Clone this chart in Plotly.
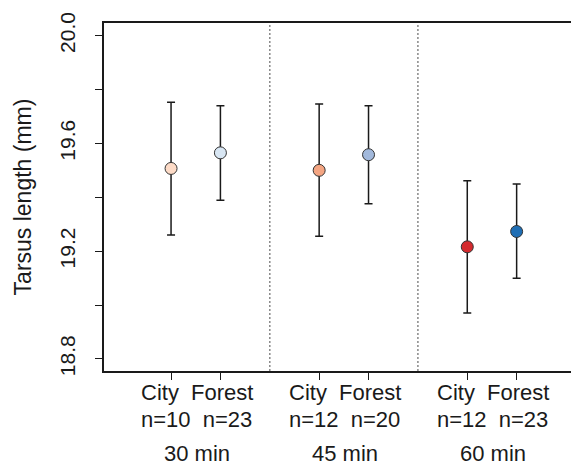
import plotly.graph_objects as go

# Data
groups = ["30 min", "45 min", "60 min"]
habitats = ["City", "Forest"]
sample_sizes = [10, 23, 12, 20, 12, 23]
means = [19.507, 19.565, 19.500, 19.558, 19.216, 19.273]
upper = [19.753, 19.740, 19.746, 19.740, 19.461, 19.449]
lower = [19.260, 19.389, 19.255, 19.376, 18.970, 19.099]
colors = ["#FDDBC7", "#D8E6F3", "#F4A582", "#A2B9DC", "#D42A2E", "#1F6EB4"]
positions = [1, 2, 4, 5, 7, 8]
dividers = [3, 6]
y_ticks = [18.8, 19.0, 19.2, 19.4, 19.6, 19.8, 20.0]
y_labels = ["18.8", "", "19.2", "", "19.6", "", "20.0"]

err_plus = [u - m for u, m in zip(upper, means)]
err_minus = [m - l for m, l in zip(means, lower)]

FONT = "Liberation Sans, Arial, sans-serif"
TXT = "#1a1a1a"
GAP = "&nbsp;&nbsp;"

fig = go.Figure()
fig.add_trace(go.Scatter(
    x=positions, y=means, mode="markers",
    marker=dict(size=12, color=colors, line=dict(color="#333333", width=1)),
    error_y=dict(type="data", symmetric=False, array=err_plus, arrayminus=err_minus,
                 color=TXT, thickness=1.5, width=4),
    showlegend=False,
))

for d in dividers:
    fig.add_shape(type="line", xref="x", yref="paper", x0=d, x1=d, y0=0, y1=1,
                  line=dict(color="#888888", width=1.5, dash="2px,2px"), layer="below")

for i, g in enumerate(groups):
    cx = (positions[2 * i] + positions[2 * i + 1]) / 2
    line1 = f"{habitats[0]}{GAP}{habitats[1]}"
    line2 = f"n={sample_sizes[2 * i]}{GAP}n={sample_sizes[2 * i + 1]}"
    for text, ys in [(line1, -21), (line2, -48), (g, -82)]:
        fig.add_annotation(x=cx, y=0, xref="x", yref="paper", text=text, showarrow=False,
                           yanchor="middle", yshift=ys, xshift=1,
                           font=dict(family=FONT, size=22, color=TXT))

fig.update_layout(
    width=571, height=454,
    margin=dict(l=96, r=0, t=15, b=91),
    plot_bgcolor="white", paper_bgcolor="white",
    font=dict(family=FONT, size=21, color=TXT),
    xaxis=dict(range=[-0.358, 9.263], tickmode="array", tickvals=positions,
               showticklabels=False,
               showline=True, linecolor=TXT, linewidth=1.5, mirror=True,
               ticks="outside", ticklen=7, tickcolor=TXT, tickwidth=1.3,
               automargin=False, showgrid=False, zeroline=False),
    yaxis=dict(range=[18.755, 20.047], tickmode="array", tickvals=y_ticks, ticktext=y_labels,
               showline=True, linecolor=TXT, linewidth=1.5,
               ticks="outside", ticklen=7, tickcolor=TXT, tickwidth=1.3,
               tickangle=-90, ticklabelstandoff=12, automargin=False,
               showgrid=False, zeroline=False, tickfont=dict(size=21),
               title=dict(text="Tarsus length (mm)", font=dict(size=23), standoff=18)),
)

fig.write_html("out.html")
